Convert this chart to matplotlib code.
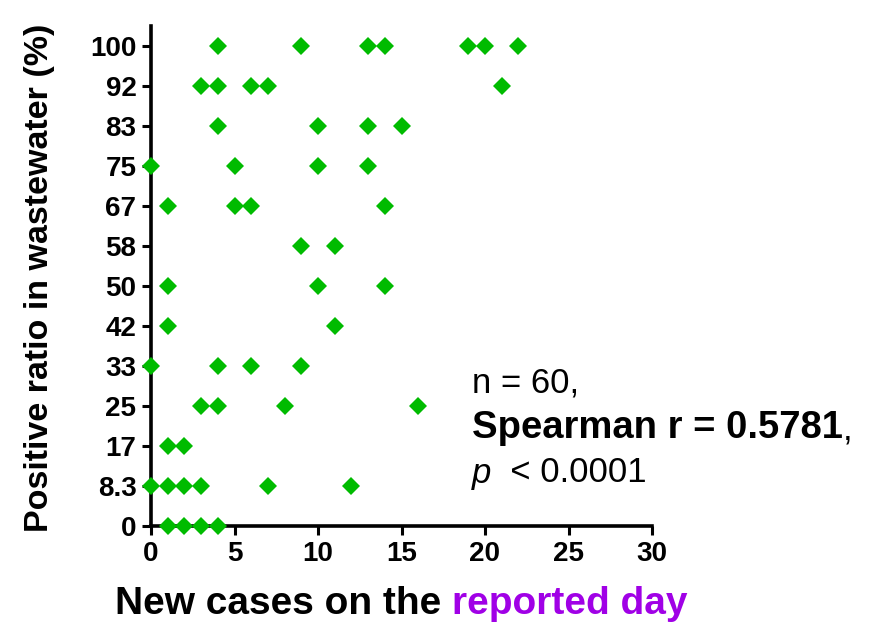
import matplotlib
matplotlib.use('Agg')
import matplotlib.pyplot as plt
import numpy as np

plt.rcParams['font.family'] = ['Liberation Sans', 'DejaVu Sans']

# y categories (positive ratio, %), drawn at equal spacing
y_labels = ['0', '8.3', '17', '25', '33', '42', '50', '58', '67', '75', '83', '92', '100']

# new cases for each ratio level
cases = {
    '100': [4, 9, 13, 14, 19, 20, 22],
    '92': [3, 4, 6, 7, 21],
    '83': [4, 10, 13, 15],
    '75': [0, 5, 10, 13],
    '67': [1, 5, 6, 14],
    '58': [9, 11],
    '50': [1, 10, 14],
    '42': [1, 11],
    '33': [0, 4, 6, 9],
    '25': [3, 4, 8, 16],
    '17': [1, 2],
    '8.3': [0, 1, 2, 3, 7, 12],
    '0': [1, 2, 3, 4],
}
x_ticks = [0, 5, 10, 15, 20, 25, 30]

green = '#00BB00'
purple = '#A000E6'

fig = plt.figure(figsize=(8.73, 6.29), dpi=100)
ax = fig.add_axes([151/873, 1-526/629, (652-151)/873, 500/629])

xs = []
ys = []
for i, lab in enumerate(y_labels):
    for c in cases[lab]:
        xs.append(c)
        ys.append(i)
ax.plot(xs, ys, 'D', color=green, ms=9.2, mew=0, clip_on=False, zorder=3)

ax.set_xlim(0, 30)
ax.set_ylim(0, 12.5)
ax.set_xticks(x_ticks)
ax.set_yticks(range(len(y_labels)))
ax.set_yticklabels(y_labels)

for s in ['top', 'right']:
    ax.spines[s].set_visible(False)
for s in ['left', 'bottom']:
    ax.spines[s].set_linewidth(2.6)
ax.tick_params(width=2.2, length=6.5, pad=4)
for lab in ax.get_xticklabels() + ax.get_yticklabels():
    lab.set_family(['Liberation Sans Narrow', 'Liberation Sans'])
    lab.set_fontweight('bold')
    lab.set_fontsize(20)

fig.text(40/873, 1-278/629, 'Positive ratio in wastewater (%)', rotation=90,
         ha='center', va='center', fontsize=24.5, fontweight='bold')

t1 = fig.text(115/873, 1-604/629, 'New cases on the ', ha='left', va='center',
              fontsize=28, fontweight='bold')
ax.annotate('reported day', xycoords=t1, xy=(1, 0), va='bottom', ha='left',
            fontsize=28, fontweight='bold', color=purple)

fig.text(472/873, 1-383/629, 'n = 60,', ha='left', va='center', fontsize=25)
t2 = fig.text(472/873, 1-428/629, 'Spearman r = 0.5781', ha='left', va='center',
              fontsize=27.5, fontweight='bold')
ax.annotate(',', xycoords=t2, xy=(1, 0), va='bottom', ha='left', fontsize=25)
t3 = fig.text(472/873, 1-473/629, 'p', ha='left', va='center', fontsize=25,
              fontstyle='italic')
ax.annotate('  < 0.0001', xycoords=t3, xy=(1, 0), va='bottom', ha='left', fontsize=25)

fig.savefig('out.png', dpi=100)
